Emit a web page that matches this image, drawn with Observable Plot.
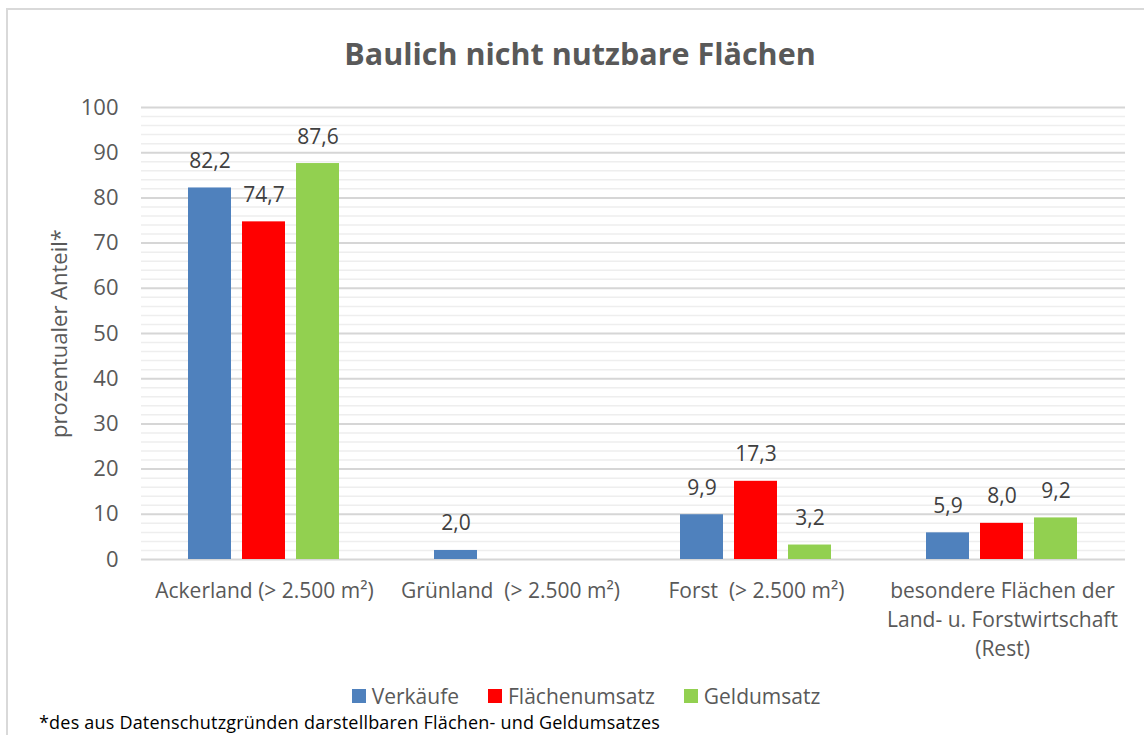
<!DOCTYPE html>
<html><head><meta charset="utf-8">
<script src="https://cdn.jsdelivr.net/npm/d3@7"></script>
<script src="https://cdn.jsdelivr.net/npm/@observablehq/plot@0.6"></script>
<style>
body{margin:0;width:1144px;height:735px;overflow:hidden;background:#fff;font-family:"Open Sans",sans-serif;position:relative}
#frame{position:absolute;left:6px;top:8px;width:1200px;height:800px;border:2px solid #d9d9d9;box-sizing:border-box}
#title{position:absolute;left:0;width:1160px;top:33px;line-height:40px;text-align:center;font-weight:bold;font-size:30.5px;color:#595959}
#chart{position:absolute;left:0;top:80px}
#chart svg text{white-space:pre}
#legend{position:absolute;top:687px;left:0;width:1172px;display:flex;justify-content:center;gap:29px;font-size:21px;line-height:18px;color:#595959}
.item{display:flex;align-items:center;gap:6px}
.sw{width:14px;height:14px}
#foot{position:absolute;left:39px;top:714px;font-size:18px;line-height:16px;color:#000;white-space:nowrap;letter-spacing:0.2px}
</style></head><body>
<div id="frame"></div>
<div id="title">Baulich nicht nutzbare Flächen</div>
<div id="chart"></div>
<div id="legend"></div>
<div id="foot">*des aus Datenschutzgründen darstellbaren Flächen- und Geldumsatzes</div>
<script>
const categories = ["Ackerland (> 2.500 m²)", "Grünland  (> 2.500 m²)", "Forst  (> 2.500 m²)", "besondere Flächen der\nLand- u. Forstwirtschaft\n(Rest)"];
const series = ["Verkäufe", "Flächenumsatz", "Geldumsatz"];
const colors = ["#4F81BD", "#FF0000", "#92D050"];
const verkaeufe = [82.2, 2.0, 9.9, 5.9];
const flaechenumsatz = [74.7, null, 17.3, 8.0];
const geldumsatz = [87.6, null, 3.2, 9.2];
const yTicks = [0, 10, 20, 30, 40, 50, 60, 70, 80, 90, 100];
const yLabel = "prozentualer Anteil*";

const values = [verkaeufe, flaechenumsatz, geldumsatz];
const data = categories.flatMap((c, i) => series.map((s, j) => ({cat: c, series: s, value: values[j][i]})))
  .filter(d => d.value != null);
const minor = d3.range(0, 100, 2).filter(v => v % 10 !== 0);
const fmt = v => v.toFixed(1).replace(".", ",");

const chart = Plot.plot({
  width: 1144, height: 590,
  marginTop: 27, marginBottom: 111, marginLeft: 139, marginRight: 18,
  style: {fontFamily: "Open Sans", fontSize: "22px", color: "#595959", background: "transparent"},
  fx: {domain: categories, padding: 0, label: null},
  x: {domain: series, paddingInner: 0.2, paddingOuter: 0.864, axis: null},
  y: {domain: [0, 100], axis: null},
  color: {domain: series, range: colors},
  marks: [
    Plot.ruleY(minor, {stroke: "#eeeeee", strokeWidth: 1.5}),
    Plot.ruleY(yTicks, {stroke: "#d6d6d6", strokeWidth: 2}),
    Plot.axisY({ticks: yTicks, tickSize: 0, tickPadding: 23, fontSize: 22, fill: "#595959",
      label: yLabel, labelAnchor: "center", labelArrow: "none", labelOffset: 90}),
    Plot.barY(data, {fx: "cat", x: "series", y: "value", fill: "series"}),
    Plot.text(data, {fx: "cat", x: "series", y: "value", text: d => fmt(d.value),
      lineAnchor: "bottom", dy: -20, fill: "#404040", fontSize: 21}),
    Plot.axisFx({anchor: "bottom", tickSize: 0, tickPadding: 18, label: null, lineHeight: 1.38,
      fontSize: 21, fill: "#595959"})
  ]
});
document.getElementById("chart").append(chart);

const legend = document.getElementById("legend");
series.forEach((s, i) => {
  const item = document.createElement("div");
  item.className = "item";
  const sw = document.createElement("div");
  sw.className = "sw";
  sw.style.background = colors[i];
  const t = document.createElement("span");
  t.textContent = s;
  item.append(sw, t);
  legend.append(item);
});
</script>
</body></html>
